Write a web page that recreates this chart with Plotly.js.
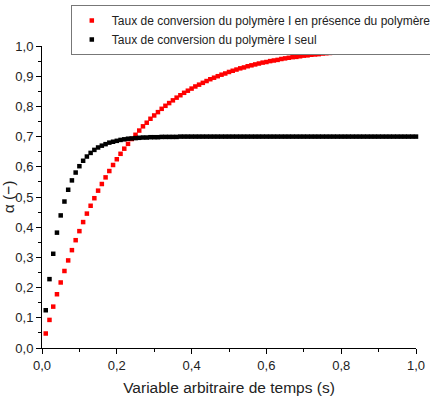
<!DOCTYPE html>
<html>
<head>
<meta charset="utf-8">
<script src="https://cdn.plot.ly/plotly-3.0.1.min.js"></script>
<style>html,body{margin:0;padding:0;background:#fff;}#chart{width:430px;height:411px;}</style>
</head>
<body>
<div id="chart"></div>
<script>
var timeValues = [0.01,0.02,0.03,0.04,0.05,0.06,0.07,0.08,0.09,0.10,
0.11,0.12,0.13,0.14,0.15,0.16,0.17,0.18,0.19,0.20,
0.21,0.22,0.23,0.24,0.25,0.26,0.27,0.28,0.29,0.30,
0.31,0.32,0.33,0.34,0.35,0.36,0.37,0.38,0.39,0.40,
0.41,0.42,0.43,0.44,0.45,0.46,0.47,0.48,0.49,0.50,
0.51,0.52,0.53,0.54,0.55,0.56,0.57,0.58,0.59,0.60,
0.61,0.62,0.63,0.64,0.65,0.66,0.67,0.68,0.69,0.70,
0.71,0.72,0.73,0.74,0.75,0.76,0.77,0.78,0.79,0.80,
0.81,0.82,0.83,0.84,0.85,0.86,0.87,0.88,0.89,0.90,
0.91,0.92,0.93,0.94,0.95,0.96,0.97,0.98,0.99,1.00];

var conversionWithPolymerII = [0.048,0.093,0.137,0.178,0.217,0.255,0.290,0.324,0.357,0.387,
0.417,0.445,0.471,0.496,0.521,0.543,0.565,0.586,0.606,0.625,
0.643,0.660,0.676,0.692,0.706,0.720,0.734,0.746,0.759,0.770,
0.781,0.792,0.802,0.811,0.820,0.829,0.837,0.845,0.852,0.859,
0.866,0.872,0.878,0.884,0.890,0.895,0.900,0.905,0.909,0.914,
0.918,0.922,0.926,0.929,0.933,0.936,0.939,0.942,0.945,0.947,
0.950,0.952,0.954,0.957,0.959,0.961,0.963,0.964,0.966,0.968,
0.969,0.971,0.972,0.973,0.975,0.976,0.977,0.978,0.979,0.980,
0.981,0.982,0.983,0.984,0.985,0.985,0.986,0.987,0.987,0.988,
0.988,0.989,0.990,0.990,0.991,0.991,0.991,0.992,0.992,0.993];

var conversionAlone = [0.125,0.228,0.312,0.382,0.439,0.485,0.524,0.555,0.581,0.602,
0.620,0.634,0.646,0.656,0.664,0.670,0.675,0.680,0.683,0.686,
0.689,0.691,0.693,0.694,0.695,0.696,0.697,0.697,0.698,0.698,
0.698,0.699,0.699,0.699,0.699,0.699,0.700,0.700,0.700,0.700,
0.700,0.700,0.700,0.700,0.700,0.700,0.700,0.700,0.700,0.700,
0.700,0.700,0.700,0.700,0.700,0.700,0.700,0.700,0.700,0.700,
0.700,0.700,0.700,0.700,0.700,0.700,0.700,0.700,0.700,0.700,
0.700,0.700,0.700,0.700,0.700,0.700,0.700,0.700,0.700,0.700,
0.700,0.700,0.700,0.700,0.700,0.700,0.700,0.700,0.700,0.700,
0.700,0.700,0.700,0.700,0.700,0.700,0.700,0.700,0.700,0.700];

var seriesNames = ["Taux de conversion du polymère I en présence du polymère II",
                   "Taux de conversion du polymère I seul"];
var xTicks = [0,0.2,0.4,0.6,0.8,1.0];
var yTicks = [0,0.1,0.2,0.3,0.4,0.5,0.6,0.7,0.8,0.9,1.0];

var traces = [
  {x: timeValues, y: conversionWithPolymerII, name: seriesNames[0], type: 'scatter', mode: 'markers',
   cliponaxis: false, marker: {symbol: 'square', size: 4.5, color: '#ff0000'}},
  {x: timeValues, y: conversionAlone, name: seriesNames[1], type: 'scatter', mode: 'markers',
   cliponaxis: false, marker: {symbol: 'square', size: 4.5, color: '#000000'}}
];

var font = 'Liberation Sans, Arial, sans-serif';
var layout = {
  width: 430, height: 411,
  separators: ', ',
  margin: {l: 42, r: 14, t: 46, b: 63, autoexpand: false},
  paper_bgcolor: '#fff', plot_bgcolor: '#fff',
  font: {family: font, size: 13, color: '#222'},
  showlegend: true,
  legend: {x: 0.077, y: 1.136, xanchor: 'left', yanchor: 'top', bgcolor: '#fff',
           bordercolor: '#777', borderwidth: 1, font: {family: font, size: 12, color: '#222'},
           tracegroupgap: 0},
  xaxis: {range: [0, 1], tickvals: xTicks, tickformat: '.1f', showgrid: false, zeroline: false,
          showline: true, linecolor: '#000', linewidth: 1, ticks: 'outside', ticklen: 5, tickcolor: '#000',
          minor: {dtick: 0.1, ticks: 'outside', ticklen: 3, tickcolor: '#000', showgrid: false},
          tickfont: {size: 13, color: '#222'},
          title: {text: 'Variable arbitraire de temps (s)', font: {size: 15.5, color: '#222'}, standoff: 10}},
  yaxis: {range: [0, 1], tickvals: yTicks, tickformat: '.1f', showgrid: false, zeroline: false,
          showline: true, linecolor: '#000', linewidth: 1, ticks: 'outside', ticklen: 5, tickcolor: '#000',
          minor: {dtick: 0.05, ticks: 'outside', ticklen: 3, tickcolor: '#000', showgrid: false},
          tickfont: {size: 13, color: '#222'},
          title: {text: 'α (−)', font: {size: 15.5, color: '#222'}, standoff: 4}}
};

Plotly.newPlot('chart', traces, layout, {staticPlot: true, displayModeBar: false});
</script>
</body>
</html>
